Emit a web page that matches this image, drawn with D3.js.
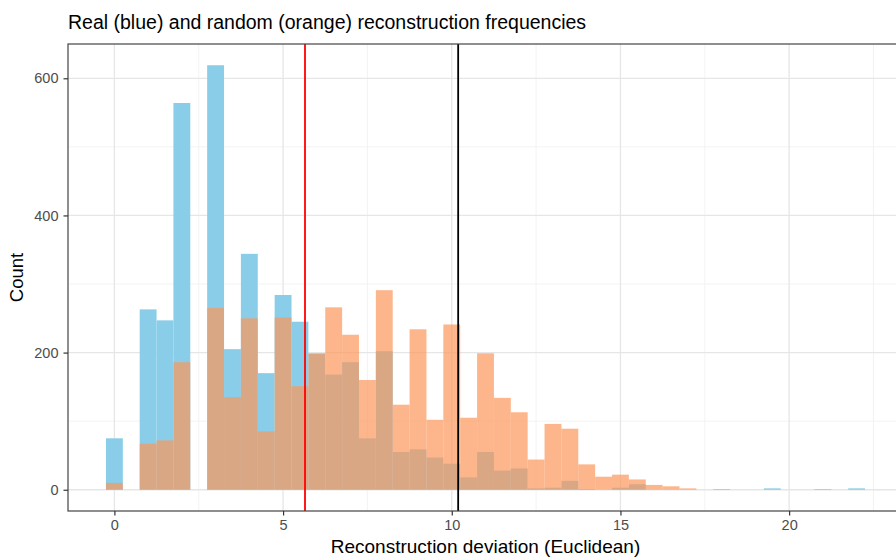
<!DOCTYPE html>
<html>
<head>
<meta charset="utf-8">
<script src="https://cdn.jsdelivr.net/npm/d3@7"></script>
<style>
  body { margin: 0; background: #fff; }
  text { font-family: "Liberation Sans", Arial, sans-serif; }
</style>
</head>
<body>
<svg width="896" height="557"></svg>
<script>
// bin centres (width 0.5)
const binCenters = d3.range(0, 22.01, 0.5)
const binWidth = 0.5

// real (blue) counts per bin
const realCounts = [75, 0, 263, 247, 564, 0, 619, 205, 344, 170, 284, 245, 199, 168, 186, 75,
    202, 55, 59, 47, 38, 18, 55, 28, 31, 2, 3, 13, 1, 0, 3, 8, 0, 0, 0, 0, 1, 0, 0, 2, 0, 0, 1, 0, 2]

// random (orange) counts per bin
const randomCounts = [10, 0, 67, 72, 186, 0, 265, 135, 250, 85, 251, 151, 198, 266, 226, 160,
    291, 124, 234, 102, 241, 105, 199, 134, 113, 44, 96, 89, 37, 19, 22, 15, 7, 5, 2, 0, 0, 0, 0, 0, 0, 0, 0, 0, 0]

const xTicks = [0, 5, 10, 15, 20]
const yTicks = [0, 200, 400, 600]
const redLine = 5.65
const blackLine = 10.19

const svg = d3.select("svg"),
    width = +svg.attr("width"),
    height = +svg.attr("height");

const panel = {left: 68, top: 44, right: 903, bottom: 511}

const x = d3.scaleLinear()
    .domain([-1.375, 23.375])
    .range([panel.left, panel.right])

const y = d3.scaleLinear()
    .domain([-31, 650])
    .range([panel.bottom, panel.top])

svg.append("clipPath").attr("id", "clip")
    .append("rect")
    .attr("x", panel.left).attr("y", panel.top)
    .attr("width", panel.right - panel.left).attr("height", panel.bottom - panel.top)

const g = svg.append("g").attr("clip-path", "url(#clip)")

// minor grid
const xMinor = [2.5, 7.5, 12.5, 17.5, 22.5]
const yMinor = [100, 300, 500]
g.selectAll(".xminor").data(xMinor).join("line")
    .attr("x1", d => x(d)).attr("x2", d => x(d))
    .attr("y1", panel.top).attr("y2", panel.bottom)
    .attr("stroke", "#f0f0f0").attr("stroke-width", 0.8)
g.selectAll(".yminor").data(yMinor).join("line")
    .attr("x1", panel.left).attr("x2", panel.right)
    .attr("y1", d => y(d)).attr("y2", d => y(d))
    .attr("stroke", "#f0f0f0").attr("stroke-width", 0.8)

// major grid
g.selectAll(".xmajor").data(xTicks).join("line")
    .attr("x1", d => x(d)).attr("x2", d => x(d))
    .attr("y1", panel.top).attr("y2", panel.bottom)
    .attr("stroke", "#e6e6e6").attr("stroke-width", 1.3)
g.selectAll(".ymajor").data(yTicks).join("line")
    .attr("x1", panel.left).attr("x2", panel.right)
    .attr("y1", d => y(d)).attr("y2", d => y(d))
    .attr("stroke", "#e6e6e6").attr("stroke-width", 1.3)

// bars: real first, random on top
g.selectAll(".real").data(binCenters).join("rect")
    .attr("x", d => x(d - binWidth / 2))
    .attr("width", d => x(d + binWidth / 2) - x(d - binWidth / 2))
    .attr("y", (d, i) => y(realCounts[i]))
    .attr("height", (d, i) => y(0) - y(realCounts[i]))
    .attr("fill", "#89cde8")

g.selectAll(".random").data(binCenters).join("rect")
    .attr("x", d => x(d - binWidth / 2))
    .attr("width", d => x(d + binWidth / 2) - x(d - binWidth / 2))
    .attr("y", (d, i) => y(randomCounts[i]))
    .attr("height", (d, i) => y(0) - y(randomCounts[i]))
    .attr("fill", "#fc975b")
    .attr("fill-opacity", 0.7)

// reference lines
g.append("line")
    .attr("x1", x(redLine)).attr("x2", x(redLine))
    .attr("y1", panel.top).attr("y2", panel.bottom)
    .attr("stroke", "#ff0000").attr("stroke-width", 1.8)
g.append("line")
    .attr("x1", x(blackLine)).attr("x2", x(blackLine))
    .attr("y1", panel.top).attr("y2", panel.bottom)
    .attr("stroke", "#000").attr("stroke-width", 1.8)

// panel border
svg.append("rect")
    .attr("x", panel.left).attr("y", panel.top)
    .attr("width", panel.right - panel.left).attr("height", panel.bottom - panel.top)
    .attr("fill", "none").attr("stroke", "#444").attr("stroke-width", 1.2)

// axes
const xAxis = svg.append("g")
    .attr("transform", `translate(0, ${panel.bottom})`)
    .call(d3.axisBottom(x).tickValues(xTicks).tickSize(4.5).tickPadding(4))
xAxis.select(".domain").remove()
xAxis.selectAll("line").attr("stroke", "#333").attr("stroke-width", 1.2)
xAxis.selectAll("text").attr("fill", "#4d4d4d").style("font-size", "14.5px")
    .style("font-family", "Liberation Sans, Arial, sans-serif")

const yAxis = svg.append("g")
    .attr("transform", `translate(${panel.left}, 0)`)
    .call(d3.axisLeft(y).tickValues(yTicks).tickSize(4.5).tickPadding(5))
yAxis.select(".domain").remove()
yAxis.selectAll("line").attr("stroke", "#333").attr("stroke-width", 1.2)
yAxis.selectAll("text").attr("fill", "#4d4d4d").style("font-size", "14.5px")
    .style("font-family", "Liberation Sans, Arial, sans-serif")

// titles
svg.append("text")
    .attr("x", 68)
    .attr("y", 29)
    .text("Real (blue) and random (orange) reconstruction frequencies")
    .style("font-size", "19.5px")
    .attr("fill", "#000")

svg.append("text")
    .attr("x", (panel.left + panel.right) / 2)
    .attr("y", 553)
    .attr("text-anchor", "middle")
    .text("Reconstruction deviation (Euclidean)")
    .style("font-size", "19px")

svg.append("text")
    .attr("transform", `translate(23, ${(panel.top + panel.bottom) / 2}) rotate(-90)`)
    .attr("text-anchor", "middle")
    .text("Count")
    .style("font-size", "18.5px")
</script>
</body>
</html>
